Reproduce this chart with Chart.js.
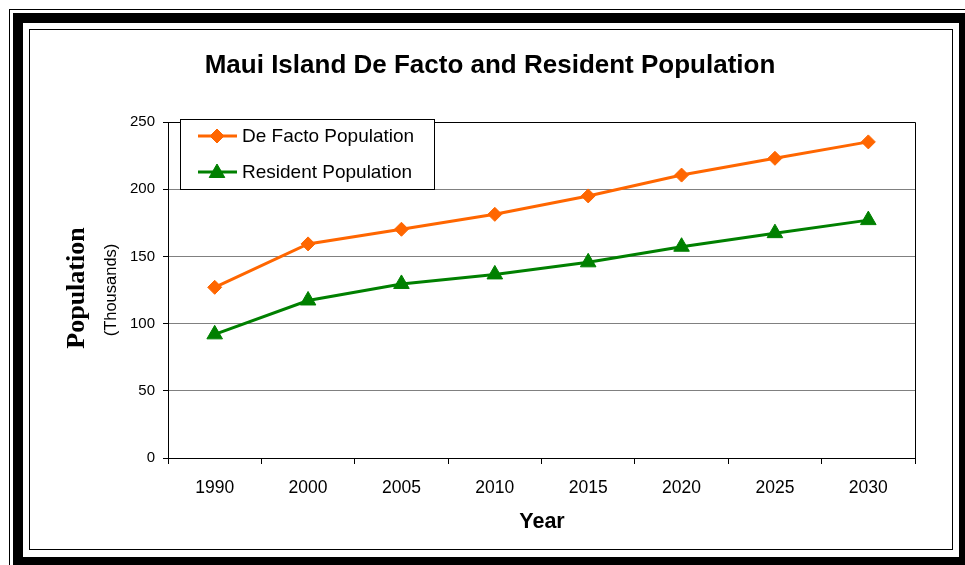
<!DOCTYPE html>
<html lang="en">
<head>
    <meta charset="UTF-8">
    <title>Maui Island De Facto and Resident Population</title>
    <script src="https://cdn.jsdelivr.net/npm/chart.js"></script>
    <style>
        html, body {
            margin: 0;
            padding: 0;
            background: #fff;
        }
        canvas {
            display: block;
        }
    </style>
</head>
<body>
    <canvas id="popChart" width="965" height="565"></canvas>

    <script>
        // chart data (thousands)
        const years = ["1990", "2000", "2005", "2010", "2015", "2020", "2025", "2030"];
        const deFacto = [127, 159.3, 170.2, 181.3, 195, 210.5, 223, 235.2];
        const resident = [92, 117.2, 129.5, 136.6, 145.6, 157.2, 167.3, 177];
        const yTicks = [0, 50, 100, 150, 200, 250];

        const chartTitle = "Maui Island De Facto and Resident Population";
        const yTitle = "Population";
        const ySubTitle = "(Thousands)";
        const xTitle = "Year";

        const SANS = '"Liberation Sans", Arial, sans-serif';
        const SERIF = '"Liberation Serif", "Times New Roman", serif';

        // white page with the triple frame round it
        const framePlugin = {
            id: "frame",
            beforeDraw(chart) {
                const ctx = chart.ctx;
                ctx.save();
                ctx.fillStyle = "#fff";
                ctx.fillRect(0, 0, chart.width, chart.height);
                ctx.strokeStyle = "#000";
                ctx.lineWidth = 1;
                ctx.strokeRect(9.5, 9.5, 959, 559);
                ctx.lineWidth = 10;
                ctx.strokeRect(18, 18, 946, 544);
                ctx.lineWidth = 1;
                ctx.strokeRect(29.5, 29.5, 923, 520);
                ctx.restore();
            }
        };

        // black border on top and right of the plot area
        const plotBorderPlugin = {
            id: "plotBorder",
            beforeDatasetsDraw(chart) {
                const a = chart.chartArea;
                const ctx = chart.ctx;
                ctx.save();
                ctx.strokeStyle = "#000";
                ctx.lineWidth = 1;
                ctx.beginPath();
                ctx.moveTo(Math.round(a.left) + 0.5, Math.round(a.top) + 0.5);
                ctx.lineTo(Math.round(a.right) + 0.5, Math.round(a.top) + 0.5);
                ctx.lineTo(Math.round(a.right) + 0.5, Math.round(a.bottom) + 0.5);
                ctx.stroke();
                ctx.restore();
            }
        };

        // titles and the boxed legend inside the plot
        const textPlugin = {
            id: "texts",
            afterDraw(chart) {
                const ctx = chart.ctx;
                const a = chart.chartArea;
                const midY = (a.top + a.bottom) / 2;
                ctx.save();
                ctx.fillStyle = "#000";

                ctx.font = "bold 26px " + SANS;
                ctx.textAlign = "center";
                ctx.textBaseline = "alphabetic";
                ctx.fillText(chartTitle, 490, 73);

                ctx.font = "bold 21.5px " + SANS;
                ctx.fillText(xTitle, 542, 528);

                ctx.save();
                ctx.translate(84, midY - 2);
                ctx.rotate(-Math.PI / 2);
                ctx.font = "bold 26px " + SERIF;
                ctx.fillText(yTitle, 0, 0);
                ctx.restore();

                ctx.save();
                ctx.translate(116, midY);
                ctx.rotate(-Math.PI / 2);
                ctx.font = "16.5px " + SANS;
                ctx.fillText(ySubTitle, 0, 0);
                ctx.restore();

                // legend
                const lx = 180.5, ly = 119.5, lw = 254, lh = 70;
                ctx.fillStyle = "#fff";
                ctx.fillRect(lx, ly, lw, lh);
                ctx.strokeStyle = "#000";
                ctx.lineWidth = 1;
                ctx.strokeRect(lx, ly, lw, lh);

                chart.data.datasets.forEach((ds, i) => {
                    const y = 136 + i * 36;
                    ctx.strokeStyle = ds.borderColor;
                    ctx.lineWidth = ds.borderWidth;
                    ctx.beginPath();
                    ctx.moveTo(198, y);
                    ctx.lineTo(237, y);
                    ctx.stroke();
                    ctx.fillStyle = ds.pointBackgroundColor;
                    ctx.strokeStyle = ds.pointBorderColor;
                    ctx.lineWidth = 1;
                    Chart.helpers.drawPoint(ctx, {
                        pointStyle: ds.pointStyle,
                        radius: ds.pointRadius,
                        rotation: 0,
                        borderWidth: 1
                    }, 217, y + (ds.pointStyle === "triangle" ? 1 : 0));
                    ctx.fillStyle = "#000";
                    ctx.font = "19px " + SANS;
                    ctx.textAlign = "left";
                    ctx.textBaseline = "middle";
                    ctx.fillText(ds.label, 242, y + 1);
                });
                ctx.restore();
            }
        };

        const chartCtx = document.getElementById("popChart").getContext("2d");
        new Chart(chartCtx, {
            type: "line",
            data: {
                labels: years,
                datasets: [
                    {
                        label: "De Facto Population",
                        data: deFacto,
                        borderColor: "#FF6600",
                        backgroundColor: "#FF6600",
                        pointBackgroundColor: "#FF6600",
                        pointBorderColor: "#FF6600",
                        pointStyle: "rectRot",
                        pointRadius: 7,
                        pointBorderWidth: 1,
                        borderWidth: 3,
                        tension: 0,
                        fill: false
                    },
                    {
                        label: "Resident Population",
                        data: resident,
                        borderColor: "#008000",
                        backgroundColor: "#008000",
                        pointBackgroundColor: "#008000",
                        pointBorderColor: "#008000",
                        pointStyle: "triangle",
                        pointRadius: 9,
                        pointBorderWidth: 1,
                        borderWidth: 3,
                        tension: 0,
                        fill: false
                    }
                ]
            },
            options: {
                responsive: false,
                animation: false,
                devicePixelRatio: 1,
                layout: {
                    padding: { left: 0, right: 50, top: 122, bottom: 0 }
                },
                plugins: {
                    legend: { display: false },
                    title: { display: false },
                    tooltip: { enabled: false }
                },
                scales: {
                    x: {
                        type: "category",
                        offset: true,
                        afterFit(scale) { scale.height = 107; },
                        grid: {
                            offset: true,
                            color: "rgba(0,0,0,0)",
                            tickColor: "#000",
                            tickLength: 6,
                            drawTicks: true
                        },
                        border: { display: true, color: "#000", width: 1 },
                        ticks: {
                            color: "#000",
                            font: { family: SANS, size: 17.5 },
                            padding: 14,
                            maxRotation: 0,
                            autoSkip: false
                        }
                    },
                    y: {
                        min: 0,
                        max: 250,
                        afterFit(scale) { scale.width = 168; },
                        afterBuildTicks(scale) {
                            scale.ticks = yTicks.map(v => ({ value: v }));
                        },
                        grid: {
                            color: "#808080",
                            tickColor: "#000",
                            tickLength: 5,
                            lineWidth: 1
                        },
                        border: { display: true, color: "#000", width: 1 },
                        ticks: {
                            color: "#000",
                            font: { family: SANS, size: 15 },
                            padding: 8
                        }
                    }
                }
            },
            plugins: [framePlugin, plotBorderPlugin, textPlugin]
        });
    </script>
</body>
</html>
